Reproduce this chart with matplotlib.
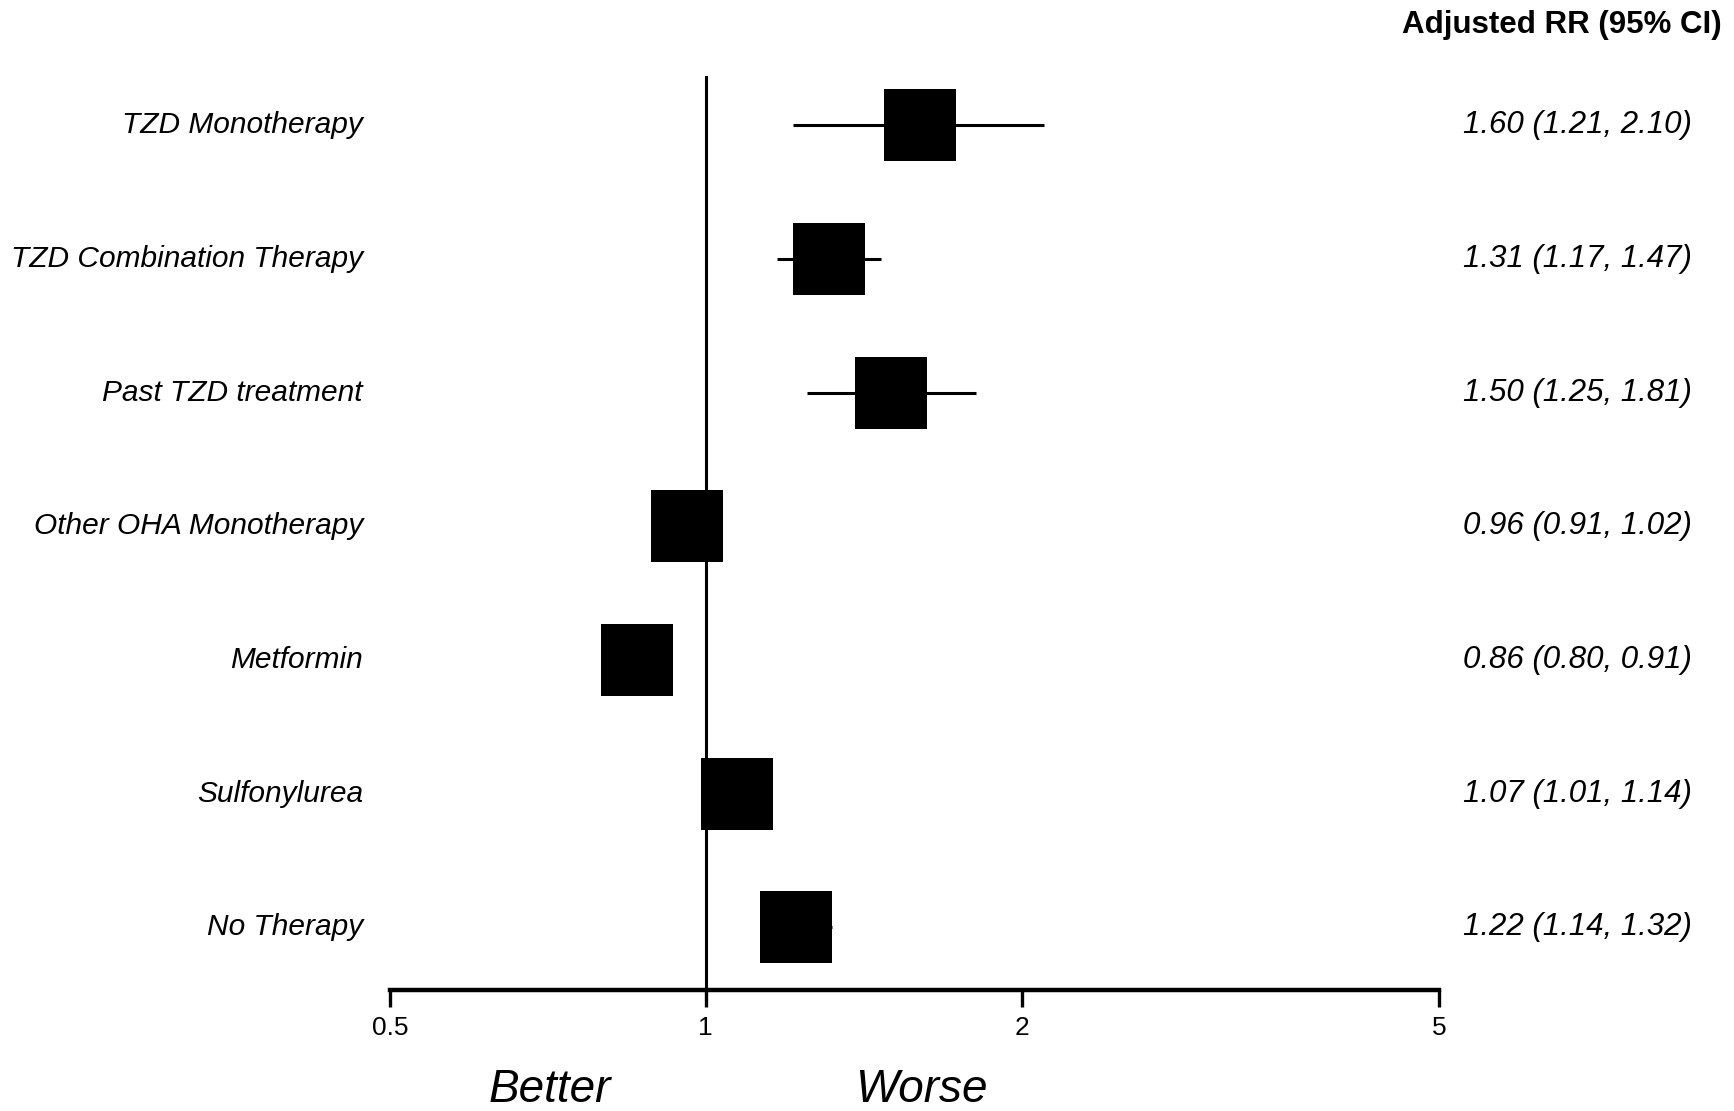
"""
Forest plot: adjusted RR (95% CI) by diabetes treatment group.
"""

import matplotlib
matplotlib.use("Agg")
import matplotlib.pyplot as plt
import matplotlib.transforms as mtransforms
from matplotlib import font_manager

# data
labels = [
    "TZD Monotherapy",
    "TZD Combination Therapy",
    "Past TZD treatment",
    "Other OHA Monotherapy",
    "Metformin",
    "Sulfonylurea",
    "No Therapy",
]
rr = [1.60, 1.31, 1.50, 0.96, 0.86, 1.07, 1.22]
ci_lo = [1.21, 1.17, 1.25, 0.91, 0.80, 1.01, 1.14]
ci_hi = [2.10, 1.47, 1.81, 1.02, 0.91, 1.14, 1.32]
xticks = [0.5, 1, 2, 5]
xtick_labels = ["0.5", "1", "2", "5"]

W, H, DPI = 1734, 1111, 100

installed = {f.name for f in font_manager.fontManager.ttflist}
narrow = "Liberation Sans Narrow" if "Liberation Sans Narrow" in installed else "Liberation Sans"
plt.rcParams["font.family"] = ["Liberation Sans", "DejaVu Sans"]

fig = plt.figure(figsize=(W / DPI, H / DPI), dpi=DPI)
fig.patch.set_facecolor("white")

# axes placed so 0.5 -> x=390px, 5 -> x=1439px, top 76px, axis line at 990px
left, right = 390 / W, 1439 / W
top, bottom = 1 - 76 / H, 1 - 990 / H
ax = fig.add_axes([left, bottom, right - left, top - bottom])
ax.set_xscale("log")
ax.set_xlim(0.5, 5)
n = len(labels)
ax.set_ylim(n - 1 + 0.47, -0.37)

ax.axvline(1, color="black", lw=2.2, zorder=1)

rows = list(range(n))
ax.hlines(rows, ci_lo, ci_hi, color="black", lw=2.2, zorder=2)
ax.plot(rr, rows, linestyle="none", marker="s", markersize=52.5,
        color="black", markeredgewidth=0, zorder=3)

for side in ["left", "top", "right"]:
    ax.spines[side].set_visible(False)
ax.spines["bottom"].set_linewidth(3.2)
ax.set_yticks([])
ax.xaxis.set_minor_locator(plt.NullLocator())
ax.set_xticks(xticks)
ax.set_xticklabels(xtick_labels, family=narrow, fontsize=19)
ax.tick_params(axis="x", direction="out", length=12, width=2.4, pad=7)

# row labels on the left, estimates on the right
trans = mtransforms.blended_transform_factory(fig.transFigure, ax.transData)
for i, name in enumerate(labels):
    ax.text(363 / W, i, name, transform=trans, ha="right", va="center",
            fontsize=21.5, style="italic")
    ax.text(1692 / W, i, f"{rr[i]:.2f} ({ci_lo[i]:.2f}, {ci_hi[i]:.2f})",
            transform=trans, ha="right", va="center", fontsize=22.5, style="italic")

fig.text(1722 / W, 1 - 25 / H, "Adjusted RR (95% CI)", ha="right", va="center",
         fontsize=22.5, fontweight="bold")

fig.text(550 / W, 1 - 1090 / H, "Better", ha="center", va="center",
         fontsize=33, style="italic")
fig.text(921 / W, 1 - 1090 / H, "Worse", ha="center", va="center",
         fontsize=33, style="italic")

fig.savefig("out.png", dpi=DPI)
